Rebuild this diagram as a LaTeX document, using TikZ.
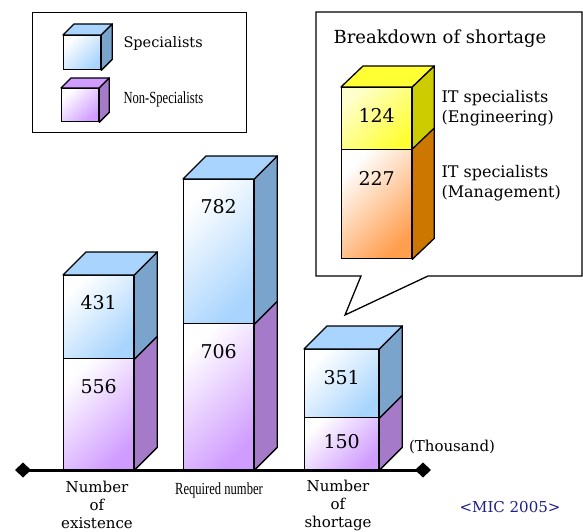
\documentclass[tikz,border=0pt]{standalone}
\usepackage{fontspec}
\setmainfont{DejaVu Serif}
\newfontfamily\narrowfont[FakeStretch=0.74]{Liberation Serif}
\usepackage{tikz}
\usetikzlibrary{positioning, calc, arrows.meta}
\definecolor{specblue}{RGB}{168, 212, 253}
\definecolor{specside}{RGB}{122, 164, 204}
\definecolor{nonpurple}{RGB}{208, 156, 255}
\definecolor{nonside}{RGB}{165, 123, 201}
\definecolor{engyellow}{RGB}{255, 255, 51}
\definecolor{engside}{RGB}{204, 204, 0}
\definecolor{mgtorange}{RGB}{255, 158, 79}
\definecolor{mgtside}{RGB}{204, 119, 0}
\definecolor{micblue}{RGB}{30, 30, 140}

\begin{document}
\begin{tikzpicture}[
        x=1pt, y=-1pt,
        face/.style={rectangle, draw=black, line width=1.3pt, anchor=north west, inner sep=0pt},
        specface/.style={face, top color=white, bottom color=specblue, shading angle=45},
        nonface/.style={face, top color=white, bottom color=nonpurple, shading angle=45},
        engface/.style={face, top color=white!80!yellow, bottom color=engyellow, shading angle=45},
        mgtface/.style={face, top color=white, bottom color=mgtorange, shading angle=45},
        solid/.style={draw=black, line width=1.3pt, line join=round},
        num/.style={font=\fontsize{19}{19}\selectfont},
        lbl/.style={font=\fontsize{15}{18}\selectfont, align=center}
    ]
        \useasboundingbox (0,0) rectangle (583,532);

        % Legend
        \node[draw=black, line width=1.4pt, anchor=north west, minimum width=214pt, minimum height=120pt] (legend) at (32,12) {};
        \node[specface, minimum width=37pt, minimum height=34pt] (legspec) at (63,35) {};
        \node[nonface, minimum width=37pt, minimum height=33pt] (legnon) at (61,88) {};
        \filldraw[solid, fill=specblue] (legspec.north west) -- ++(11,-11) -- ($(legspec.north east)+(11,-11)$) -- (legspec.north east) -- cycle;
        \filldraw[solid, fill=specside] (legspec.north east) -- ++(11,-11) -- ($(legspec.south east)+(11,-11)$) -- (legspec.south east) -- cycle;
        \filldraw[solid, fill=nonpurple] (legnon.north west) -- ++(10,-10) -- ($(legnon.north east)+(10,-10)$) -- (legnon.north east) -- cycle;
        \filldraw[solid, fill=nonside] (legnon.north east) -- ++(10,-10) -- ($(legnon.south east)+(10,-10)$) -- (legnon.south east) -- cycle;
        \node[anchor=west, font=\fontsize{14.5}{15}\selectfont] (legspectext) at (120,44) {Specialists};
        \node[anchor=west, font=\narrowfont\fontsize{17}{17}\selectfont] (legnontext) at (120,99) {Non-Specialists};

        % Breakdown callout
        \draw[line width=1.3pt, fill=white, line join=miter] (316,12) -- (582,12) -- (582,276) -- (428,276) -- (345,315) -- (361,276) -- (316,276) -- cycle;
        \node[anchor=west, font=\fontsize{18}{18}\selectfont] (brktitle) at (330,39) {Breakdown of shortage};
        \node[engface, minimum width=70pt, minimum height=62pt] (eng) at (341,87) {};
        \node[mgtface, minimum width=70pt, minimum height=109pt] (mgt) at (341,149) {};
        \filldraw[solid, fill=engyellow] (eng.north west) -- ++(22,-21) -- ($(eng.north east)+(22,-21)$) -- (eng.north east) -- cycle;
        \filldraw[solid, fill=engside] (eng.north east) -- ++(22,-21) -- ($(eng.south east)+(22,-21)$) -- (eng.south east) -- cycle;
        \filldraw[solid, fill=mgtside] (mgt.north east) -- ++(22,-21) -- ($(mgt.south east)+(22,-21)$) -- (mgt.south east) -- cycle;
        \node[num] at ([yshift=-28pt]eng.north) {124};
        \node[num] at ([yshift=-29pt]mgt.north) {227};
        \node[anchor=west, align=left, font=\fontsize{16}{20}\selectfont] (engtext) at (438,108) {IT specialists\\(Engineering)};
        \node[anchor=west, align=left, font=\fontsize{16}{20}\selectfont] (mgttext) at (438,183) {IT specialists\\(Management)};

        % Bars
        \node[nonface, minimum width=70pt, minimum height=111pt] (exnon) at (63,358) {};
        \node[specface, minimum width=70pt, minimum height=83pt] (exspec) at (63,275) {};
        \node[nonface, minimum width=70pt, minimum height=146pt] (reqnon) at (183,323) {};
        \node[specface, minimum width=70pt, minimum height=144pt] (reqspec) at (183,179) {};
        \node[nonface, minimum width=74pt, minimum height=52pt] (shnon) at (304,417) {};
        \node[specface, minimum width=74pt, minimum height=68pt] (shspec) at (304,349) {};

        \foreach \b in {exnon, reqnon, shnon}
            \filldraw[solid, fill=nonside] (\b.north east) -- ++(23,-23) -- ($(\b.south east)+(23,-23)$) -- (\b.south east) -- cycle;
        \foreach \b in {exspec, reqspec, shspec} {
            \filldraw[solid, fill=specside] (\b.north east) -- ++(23,-23) -- ($(\b.south east)+(23,-23)$) -- (\b.south east) -- cycle;
            \filldraw[solid, fill=specblue] (\b.north west) -- ++(23,-23) -- ($(\b.north east)+(23,-23)$) -- (\b.north east) -- cycle;
        }

        \node[num] at ([yshift=-28pt]exspec.north) {431};
        \node[num] at ([yshift=-29pt]exnon.north) {556};
        \node[num] at ([yshift=-28pt]reqspec.north) {782};
        \node[num] at ([yshift=-29pt]reqnon.north) {706};
        \node[num] at ([yshift=-29pt]shspec.north) {351};
        \node[num] at ([yshift=-25pt]shnon.north) {150};

        % Axis
        \coordinate (axl) at (15,470);
        \coordinate (axr) at (431,470);
        \draw[line width=3pt, {Diamond[length=16pt,width=15pt]}-{Diamond[length=16pt,width=15pt]}] (axl) -- (axr);

        % Labels
        \node[lbl] (exlabel) at (97,505) {Number\\of\\existence};
        \node[font=\narrowfont\fontsize{17}{17}\selectfont] (reqlabel) at (219,490) {Required number};
        \node[lbl] (shlabel) at (338,505) {Number\\of\\shortage};
        \node[font=\fontsize{15}{15}\selectfont] (unit) at (452,447) {(Thousand)};
        \node[font=\fontsize{15}{15}\selectfont, text=micblue] (source) at (510,507) {<MIC 2005>};
    \end{tikzpicture}
\end{document}
